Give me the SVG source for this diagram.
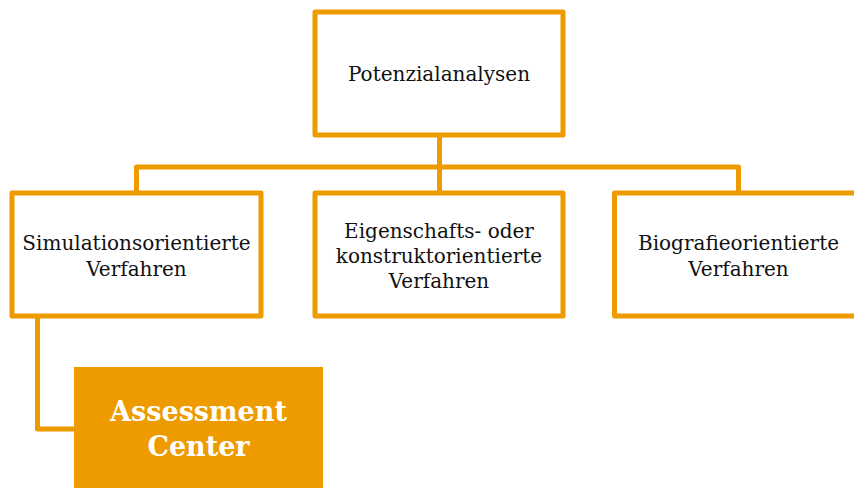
<svg xmlns="http://www.w3.org/2000/svg" width="854" height="488" viewBox="0 0 854 488">
<style>
.box{fill:#fff;stroke:#EE9B00;stroke-width:5;stroke-linejoin:round}
.ln{fill:none;stroke:#EE9B00;stroke-width:5;stroke-linejoin:round}
.t{font-family:"DejaVu Serif","Liberation Serif",serif;font-size:20px;fill:#111;text-anchor:middle}
.tb{font-family:"DejaVu Serif","Liberation Serif",serif;font-size:27px;font-weight:bold;fill:#fff;text-anchor:middle}
</style>
<rect width="854" height="488" fill="#fff"/>
<g id="connectors">
<path class="ln" d="M439.5 135 V193"/>
<path class="ln" d="M136.5 193 V167 H738.5 V193"/>
<path class="ln" d="M37.5 316 V429 H76"/>
</g>
<g id="potenzialanalysen">
<rect class="box" x="315" y="12" width="248" height="123"/>
<text class="t" x="439" y="81">Potenzialanalysen</text>
</g>
<g id="simulation">
<rect class="box" x="12" y="193" width="249" height="123"/>
<text class="t" x="136.5" y="250">Simulationsorientierte</text>
<text class="t" x="136.5" y="276">Verfahren</text>
</g>
<g id="eigenschaft">
<rect class="box" x="315" y="193" width="248" height="123"/>
<text class="t" x="439" y="238">Eigenschafts- oder</text>
<text class="t" x="439" y="263">konstruktorientierte</text>
<text class="t" x="439" y="288">Verfahren</text>
</g>
<g id="biografie">
<rect class="box" x="614.5" y="193" width="248" height="123"/>
<text class="t" x="738.5" y="250">Biografieorientierte</text>
<text class="t" x="738.5" y="276">Verfahren</text>
</g>
<g id="assessment">
<rect x="74" y="367" width="249" height="130" fill="#EE9B00"/>
<text class="tb" x="198.5" y="421">Assessment</text>
<text class="tb" x="198.5" y="456">Center</text>
</g>
</svg>
